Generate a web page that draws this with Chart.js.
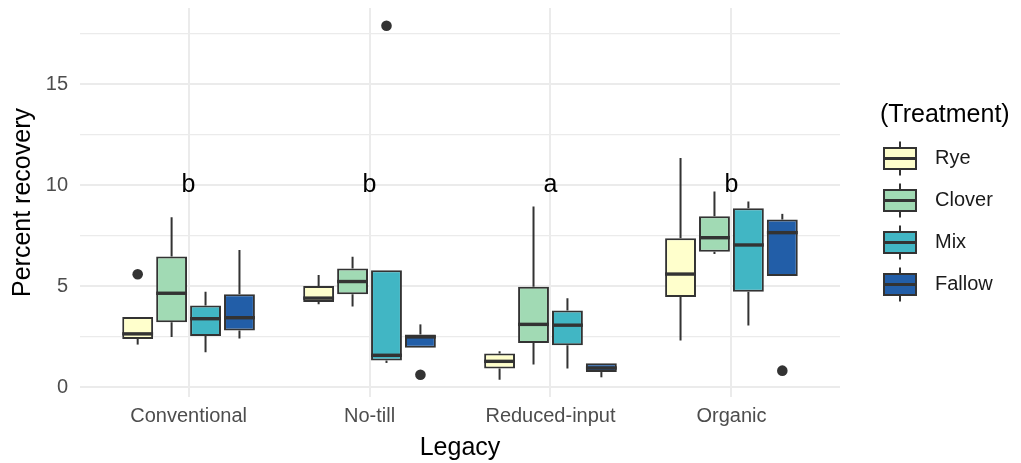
<!DOCTYPE html>
<html>
<head>
<meta charset="utf-8">
<script src="https://cdn.jsdelivr.net/npm/chart.js@4"></script>
<style>
  html, body { margin: 0; padding: 0; background: #fff; }
  #wrap { width: 1021px; height: 463px; }
</style>
</head>
<body>
<div id="wrap"><canvas id="myChart"></canvas></div>
<script>
const categories = ['Conventional', 'No-till', 'Reduced-input', 'Organic']
const treatments = ['Rye', 'Clover', 'Mix', 'Fallow']
const colors = ['#ffffcc', '#a1dab4', '#41b6c4', '#225ea8']

// [lower whisker, q1, median, q3, upper whisker] per legacy
const rye    = [[2.12, 2.40, 2.65, 3.48, 3.48], [4.11, 4.23, 4.42, 5.02, 5.57], [0.38, 0.93, 1.29, 1.68, 1.79], [2.32, 4.48, 5.61, 7.38, 11.36]]
const clover = [[2.50, 3.23, 4.66, 6.48, 8.42], [4.00, 4.61, 5.24, 5.89, 6.47], [1.13, 2.20, 3.12, 4.98, 8.96], [6.60, 6.72, 7.41, 8.47, 9.70]]
const mix    = [[1.74, 2.55, 3.40, 4.06, 4.73], [1.21, 1.33, 1.59, 5.80, 5.80], [0.93, 2.09, 3.08, 3.81, 4.41], [3.07, 4.73, 7.05, 8.87, 9.20]]
const fallow = [[2.42, 2.82, 3.45, 4.61, 6.80], [1.96, 1.96, 2.50, 2.62, 3.12], [0.50, 0.76, 0.96, 1.19, 1.19], [5.52, 5.52, 7.66, 8.31, 8.59]]
const stats = [rye, clover, mix, fallow]

const outliers = [
    { treatment: 'Rye', legacy: 'Conventional', value: 5.6 },
    { treatment: 'Mix', legacy: 'No-till', value: 17.9 },
    { treatment: 'Fallow', legacy: 'No-till', value: 0.63 },
    { treatment: 'Fallow', legacy: 'Organic', value: 0.83 }
]

const letters = ['b', 'b', 'a', 'b']
const letterY = 10

const yTicks = [0, 2.5, 5, 7.5, 10, 12.5, 15, 17.5]

const FONT = '"Liberation Sans", Arial, Helvetica, sans-serif'
const EDGE = '#333333'

const boxPlugin = {
    id: 'boxes',
    beforeDatasetsDraw(chart) {
        // whiskers behind the boxes
        const ctx = chart.ctx
        const y = chart.scales.y
        ctx.save()
        ctx.strokeStyle = EDGE
        ctx.lineWidth = 2
        stats.forEach((s, d) => {
            chart.getDatasetMeta(d).data.forEach((el, i) => {
                const [lo, q1, , q3, hi] = s[i]
                ctx.beginPath()
                ctx.moveTo(el.x, y.getPixelForValue(q3))
                ctx.lineTo(el.x, y.getPixelForValue(hi))
                ctx.moveTo(el.x, y.getPixelForValue(q1))
                ctx.lineTo(el.x, y.getPixelForValue(lo))
                ctx.stroke()
            })
        })
        ctx.restore()
    },
    afterDatasetsDraw(chart) {
        const ctx = chart.ctx
        const y = chart.scales.y
        const x = chart.scales.x
        ctx.save()
        // medians
        ctx.strokeStyle = EDGE
        ctx.lineWidth = 3.4
        stats.forEach((s, d) => {
            chart.getDatasetMeta(d).data.forEach((el, i) => {
                const py = y.getPixelForValue(s[i][2])
                ctx.beginPath()
                ctx.moveTo(el.x - el.width / 2, py)
                ctx.lineTo(el.x + el.width / 2, py)
                ctx.stroke()
            })
        })
        // outliers
        ctx.fillStyle = EDGE
        outliers.forEach(o => {
            const el = chart.getDatasetMeta(treatments.indexOf(o.treatment)).data[categories.indexOf(o.legacy)]
            ctx.beginPath()
            ctx.arc(el.x, y.getPixelForValue(o.value), 5.3, 0, Math.PI * 2)
            ctx.fill()
        })
        // significance letters
        ctx.fillStyle = '#000'
        ctx.font = '25px ' + FONT
        ctx.textAlign = 'center'
        ctx.textBaseline = 'middle'
        letters.forEach((l, i) => {
            ctx.fillText(l, x.getPixelForValue(i + 1), y.getPixelForValue(letterY))
        })
        ctx.restore()
    },
    afterDraw(chart) {
        // legend with box glyphs
        const ctx = chart.ctx
        const left = chart.chartArea.right + 44
        const mid = (chart.chartArea.top + chart.chartArea.bottom) / 2
        ctx.save()
        ctx.fillStyle = '#000'
        ctx.font = '25px ' + FONT
        ctx.textAlign = 'left'
        ctx.textBaseline = 'middle'
        ctx.fillText('(Treatment)', left - 4, mid - 87)
        treatments.forEach((t, i) => {
            const cy = mid - 44 + i * 42
            const bx = left, bw = 32, bh = 21
            ctx.strokeStyle = EDGE
            ctx.lineWidth = 2
            ctx.beginPath()
            ctx.moveTo(bx + bw / 2, cy - 17)
            ctx.lineTo(bx + bw / 2, cy + 17)
            ctx.stroke()
            ctx.fillStyle = colors[i]
            ctx.fillRect(bx, cy - bh / 2, bw, bh)
            ctx.strokeRect(bx, cy - bh / 2, bw, bh)
            ctx.lineWidth = 3
            ctx.beginPath()
            ctx.moveTo(bx, cy)
            ctx.lineTo(bx + bw, cy)
            ctx.stroke()
            ctx.fillStyle = '#1a1a1a'
            ctx.font = '20px ' + FONT
            ctx.fillText(t, left + 51, cy)
        })
        ctx.restore()
    }
}

const ctx = document.getElementById('myChart').getContext('2d')
const myChart = new Chart(ctx, {
    type: 'bar',
    data: {
        datasets: treatments.map((t, d) => ({
            label: t,
            data: stats[d].map((s, i) => ({ x: i + 1, y: [s[1], s[3]] })),
            backgroundColor: colors[d],
            borderColor: EDGE,
            borderWidth: 2,
            borderSkipped: false,
            categoryPercentage: 0.75,
            barPercentage: 0.91
        }))
    },
    options: {
        responsive: true,
        maintainAspectRatio: false,
        animation: false,
        layout: { padding: { left: 0, top: 8, right: 181, bottom: 0 } },
        plugins: {
            legend: { display: false },
            tooltip: { enabled: false }
        },
        scales: {
            x: {
                type: 'linear',
                min: 0.4,
                max: 4.6,
                offset: false,
                afterBuildTicks: scale => { scale.ticks = categories.map((c, i) => ({ value: i + 1 })) },
                afterFit: scale => {
                    scale.height = 66
                    scale.paddingLeft = 0
                    scale.paddingRight = 0
                },
                grid: { offset: false, color: '#ebebeb', lineWidth: 2, drawTicks: false },
                border: { display: false },
                ticks: {
                    padding: 7,
                    color: '#4d4d4d',
                    font: { family: FONT, size: 20 },
                    autoSkip: false,
                    maxRotation: 0,
                    callback: v => categories[v - 1]
                },
                title: {
                    display: true,
                    text: 'Legacy',
                    color: '#000',
                    font: { family: FONT, size: 25 },
                    padding: { top: 0, bottom: 0 }
                }
            },
            y: {
                min: -0.475,
                max: 18.78,
                afterBuildTicks: scale => { scale.ticks = yTicks.map(v => ({ value: v })) },
                afterFit: scale => {
                    scale.width = 80
                    scale.paddingTop = 0
                    scale.paddingBottom = 0
                },
                grid: {
                    drawTicks: false,
                    color: '#ebebeb',
                    lineWidth: c => (c.tick && c.tick.value % 5 === 0 ? 2 : 1.3)
                },
                border: { display: false },
                ticks: {
                    padding: 12,
                    color: '#4d4d4d',
                    font: { family: FONT, size: 20 },
                    callback: v => (v % 5 === 0 ? String(v) : '')
                },
                title: {
                    display: true,
                    text: 'Percent recovery',
                    color: '#000',
                    font: { family: FONT, size: 25 },
                    padding: { top: 8, bottom: 0 }
                }
            }
        }
    },
    plugins: [boxPlugin]
})
</script>
</body>
</html>
